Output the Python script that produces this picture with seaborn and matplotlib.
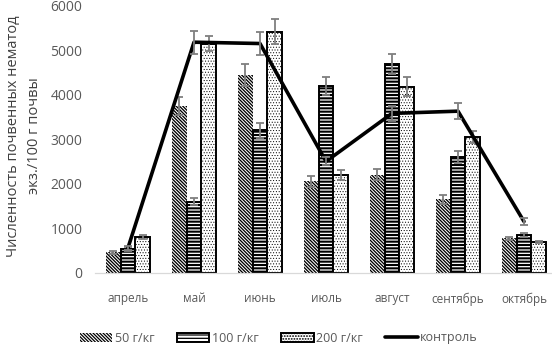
import numpy as np
import pandas as pd
import matplotlib
matplotlib.use("Agg")
import matplotlib.pyplot as plt
from matplotlib.patches import Patch
from matplotlib.lines import Line2D
import seaborn as sns

# Soil nematode counts per month (ind./100 g soil)
months = ["апрель", "май", "июнь", "июль", "август", "сентябрь", "октябрь"]
dose_labels = ["50 г/кг", "100 г/кг", "200 г/кг"]
vals_50 = [460, 3750, 4450, 2050, 2200, 1650, 770]
vals_100 = [530, 1600, 3200, 4200, 4700, 2600, 850]
vals_200 = [800, 5150, 5420, 2200, 4180, 3050, 690]
control = [560, 5180, 5150, 2500, 3580, 3630, 1150]

err_50 = [30, 200, 245, 130, 120, 100, 35]
err_100 = [50, 80, 170, 200, 225, 130, 50]
err_200 = [40, 160, 280, 110, 215, 140, 30]
err_control = [40, 260, 250, 90, 170, 175, 75]

sns.set_style("white")
plt.rcParams["font.family"] = ["Open Sans", "DejaVu Sans"]
plt.rcParams["hatch.linewidth"] = 0.9

df = pd.DataFrame({
    "month": months * 3,
    "dose": np.repeat(dose_labels, len(months)),
    "value": vals_50 + vals_100 + vals_200,
})
errs = [err_50, err_100, err_200]

fig = plt.figure(figsize=(5.52, 3.47), dpi=100)
ax = fig.add_axes([95 / 552, 1 - 272.7 / 347, 462 / 552, (272.7 - 5.7) / 347])

sns.barplot(data=df, x="month", y="value", hue="dose", order=months,
            hue_order=dose_labels, width=0.66, errorbar=None, ax=ax,
            legend=False)

styles = [
    dict(hatch="\\" * 10, lw=0.0, hlw=0.95),
    dict(hatch="-" * 5, lw=1.4, hlw=1.5),
    dict(hatch="." * 6, lw=1.4, hlw=0.4),
]


def style_patch(p, st):
    p.set_facecolor("white")
    p.set_edgecolor("black")
    p.set_linewidth(st["lw"])
    p.set_hatch(st["hatch"])
    if hasattr(p, "set_hatch_linewidth"):
        p.set_hatch_linewidth(st["hlw"])


grey = "#7f7f7f"
for cont, st, err in zip(ax.containers, styles, errs):
    xs, hs = [], []
    for bar in cont:
        style_patch(bar, st)
        xs.append(bar.get_x() + bar.get_width() / 2)
        hs.append(bar.get_height())
    ax.errorbar(xs, hs, yerr=err, fmt="none", ecolor=grey, elinewidth=1.3,
                capsize=3, capthick=1.3, zorder=4)

xpos = np.arange(len(months))
sns.lineplot(x=xpos, y=control, color="black", linewidth=2.6, ax=ax,
             zorder=5, legend=False)
ax.errorbar(xpos, control, yerr=err_control, fmt="none", ecolor=grey,
            elinewidth=1.3, capsize=3, capthick=1.3, zorder=6)

ax.set_xlim(-0.5, len(months) - 0.5)
ax.set_ylim(0, 6000)
ax.set_yticks(range(0, 6001, 1000))
ax.set_xlabel("")
ax.set_ylabel("")
ax.tick_params(axis="y", length=0, pad=9, labelsize=10, labelcolor="#595959")
ax.tick_params(axis="x", length=0, pad=14, labelsize=8.5, labelcolor="#595959")
sns.despine(ax=ax, left=True)
ax.spines["bottom"].set_color("#d9d9d9")
ax.spines["bottom"].set_linewidth(0.9)

fig.text(24 / 552, 1 - 136 / 347,
         "Численность почвенных нематод\nэкз./100 г почвы",
         rotation=90, ha="center", va="center", multialignment="center",
         fontsize=10.5, color="#404040", linespacing=1.5)

handles = []
for st in styles:
    hp = Patch()
    style_patch(hp, st)
    handles.append(hp)
handles.append(Line2D([0], [0], color="black", linewidth=2.6))
fig.legend(handles, dose_labels + ["контроль"], loc="center",
           bbox_to_anchor=(0.505, 1 - 338 / 347), ncol=4, frameon=False,
           fontsize=9, handlelength=2.6, handletextpad=0.2,
           columnspacing=1.8, labelcolor="#595959")

fig.savefig("out.png", dpi=100)
